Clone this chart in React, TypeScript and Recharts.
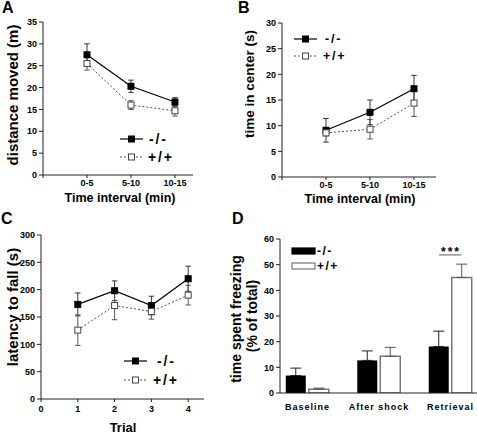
import React from 'react';
import { LineChart, Line, XAxis, YAxis, ErrorBar, Legend, BarChart, Bar, ReferenceLine } from 'recharts';

const FONT = '"Liberation Sans", Arial, Helvetica, sans-serif';

// Panel A: distance moved (m)
const intervalLabels = ['0-5', '5-10', '10-15'];
const distanceKO = [27.5, 20.3, 16.7];
const distanceKOErr = [2.5, 1.4, 1.0];
const distanceWT = [25.5, 16.0, 14.7];
const distanceWTErr = [1.5, 1.0, 1.2];
const distanceTicks = [0, 5, 10, 15, 20, 25, 30, 35];

// Panel B: time in center (s)
const centerKO = [9.1, 12.6, 17.2];
const centerKOErr = [2.3, 2.4, 2.6];
const centerWT = [8.6, 9.3, 14.4];
const centerWTErr = [0.6, 1.9, 2.6];
const centerTicks = [0, 5, 10, 15, 20, 25, 30];

// Panel C: latency to fall (s)
const trials = [1, 2, 3, 4];
const latencyKO = [173, 198, 171, 220];
const latencyKOErr = [21, 18, 17, 23];
const latencyWT = [126, 171, 160, 190];
const latencyWTErr = [28, 26, 14, 18];
const latencyTicks = [0, 50, 100, 150, 200, 250, 300];

// Panel D: time spent freezing (% of total)
const phases = ['Baseline', 'After shock', 'Retrieval'];
const freezeKO = [6.8, 12.7, 18.1];
const freezeKOErr = [2.9, 3.7, 6.0];
const freezeWT = [1.5, 14.3, 45.0];
const freezeWTErr = [0.4, 3.5, 5.2];
const freezeTicks = [0, 10, 20, 30, 40, 50, 60];

const seriesNames = ['-/-', '+/+'];

const dataA = intervalLabels.map((_, i) => ({
  x: i + 1, ko: distanceKO[i], koErr: distanceKOErr[i], wt: distanceWT[i], wtErr: distanceWTErr[i],
}));
const dataB = intervalLabels.map((_, i) => ({
  x: i + 1, ko: centerKO[i], koErr: centerKOErr[i], wt: centerWT[i], wtErr: centerWTErr[i],
}));
const dataC = trials.map((t, i) => ({
  x: t, ko: latencyKO[i], koErr: latencyKOErr[i], wt: latencyWT[i], wtErr: latencyWTErr[i],
}));
const dataD = phases.map((_, i) => ({
  x: i + 1, ko: freezeKO[i], koErr: [0, freezeKOErr[i]], wt: freezeWT[i], wtErr: [0, freezeWTErr[i]],
}));

const tickStyle = { fontSize: 9, fontWeight: 'bold', fill: '#000', fontFamily: FONT };

function VTitle(props: any) {
  const { items } = props;
  return (
    <g>
      {items.map((it: any, i: number) => (
        <text key={i} x={it.x} y={it.y} transform={`rotate(-90 ${it.x} ${it.y})`} textAnchor="middle"
          dominantBaseline="central" fontSize={it.size} fontWeight="bold" fontFamily={FONT} fill="#000">
          {it.text}
        </text>
      ))}
    </g>
  );
}

function HTitle(props: any) {
  const { tx, ty, text, size } = props;
  return (
    <text x={tx} y={ty} textAnchor="middle" dominantBaseline="central" fontSize={size} fontWeight="bold"
      fontFamily={FONT} fill="#000">
      {text}
    </text>
  );
}

function StarLabel(props: any) {
  const { tx, ty } = props;
  return (
    <text x={tx} y={ty} textAnchor="middle" fontSize={12} fontWeight="bold" fontFamily={FONT} fill="#000" letterSpacing={2}>
      ***
    </text>
  );
}

const squareDot = (fill: string, stroke: string) => (p: any) => {
  if (p.cx == null || p.cy == null) return <g key={`d${p.index}`} />;
  return <rect key={`d${p.index}`} x={p.cx - 3} y={p.cy - 3} width={6} height={6} fill={fill} stroke={stroke} strokeWidth={1} />;
};

function LineLegendSvg(props: any) {
  const { w, h, rows, x1, x2, tx, size } = props;
  return (
    <svg width={w} height={h} style={{ position: 'absolute', left: 0, top: 0, overflow: 'visible' }}>
      {rows.map((r: any, i: number) => (
        <g key={i}>
          <line x1={x1} x2={x2} y1={r.y} y2={r.y} stroke={i === 0 ? '#000' : '#555'} strokeWidth={1.2}
            strokeDasharray={i === 0 ? undefined : '2 2'} />
          <rect x={(x1 + x2) / 2 - 3} y={r.y - 3} width={6} height={6} fill={i === 0 ? '#000' : '#fff'}
            stroke={i === 0 ? '#000' : '#444'} />
          <text x={tx + (r.dx || 0)} y={r.y} dominantBaseline="central" fontSize={size} fontWeight="bold"
            fontFamily={FONT} fill="#000" letterSpacing={1.8}>
            {seriesNames[i]}
          </text>
        </g>
      ))}
    </svg>
  );
}

function BarLegendSvg(props: any) {
  const { w, h } = props;
  const rows = [{ y: 33, fill: '#000', stroke: '#000' }, { y: 48, fill: '#fff', stroke: '#777' }];
  return (
    <svg width={w} height={h} style={{ position: 'absolute', left: 0, top: 0, overflow: 'visible' }}>
      {rows.map((r, i) => (
        <g key={i}>
          <rect x={70} y={r.y} width={23} height={6} fill={r.fill} stroke={r.stroke} strokeWidth={1.2} />
          <text x={95} y={r.y + 3} dominantBaseline="central" fontSize={12} fontWeight="bold" fontFamily={FONT}
            fill="#000" letterSpacing={1.5}>
            {seriesNames[i]}
          </text>
        </g>
      ))}
    </svg>
  );
}

const legendWrap = (w: number, h: number) => ({ left: 0, top: 0, width: w, height: h, pointerEvents: 'none' as const });

function LinePanel(props: any) {
  const { w, h, data, margin, xDomain, xTicks, xFmt, xHeight, xTickMargin, yDomain, yTicks, yWidth, yTitle, xTitle, legend } = props;
  return (
    <LineChart width={w} height={h} data={data} margin={margin}>
      <XAxis dataKey="x" type="number" domain={xDomain} ticks={xTicks} tickFormatter={xFmt} allowDataOverflow
        height={xHeight} tick={tickStyle} tickSize={3} tickMargin={xTickMargin} stroke="#222" interval={0}
        label={xTitle} />
      <YAxis type="number" domain={yDomain} ticks={yTicks} allowDataOverflow width={yWidth} tick={tickStyle}
        tickSize={4} tickMargin={2} stroke="#222" interval={0} label={yTitle} />
      <Line dataKey="ko" stroke="#000" strokeWidth={1.2} dot={squareDot('#000', '#000')} activeDot={false}
        isAnimationActive={false}>
        <ErrorBar dataKey="koErr" width={2.7} stroke="#333" strokeWidth={1} direction="y" />
      </Line>
      <Line dataKey="wt" stroke="#555" strokeWidth={1} strokeDasharray="2 2" dot={squareDot('#fff', '#444')}
        activeDot={false} isAnimationActive={false}>
        <ErrorBar dataKey="wtErr" width={2.7} stroke="#555" strokeWidth={1} direction="y" />
      </Line>
      <Legend layout="vertical" align="center" verticalAlign="middle" wrapperStyle={legendWrap(w, h)}
        content={() => <LineLegendSvg w={w} h={h} {...legend} />} />
    </LineChart>
  );
}

const letterStyle = (left: number, top: number): React.CSSProperties => ({
  position: 'absolute', left, top, fontSize: 16, lineHeight: '16px', fontWeight: 'bold', fontFamily: FONT, color: '#000',
});

export default function App() {
  return (
    <div style={{ position: 'absolute', left: 0, top: 0, width: 477, height: 433, background: '#fff', overflow: 'hidden', fontFamily: FONT }}>
      {/* Panel A */}
      <div style={{ position: 'absolute', left: 0, top: 0 }}>
        <LinePanel w={237} h={215} data={dataA} margin={{ top: 22, right: 44, bottom: 0, left: 0 }}
          xDomain={[0, 3.41]} xTicks={[0, 1, 2, 3]} xFmt={(v: number) => (v === 0 ? '' : intervalLabels[v - 1])}
          xHeight={40} xTickMargin={2} yDomain={[0, 35]} yTicks={distanceTicks} yWidth={43}
          yTitle={<VTitle items={[{ x: 12.5, y: 95, size: 15, text: 'distance moved (m)' }]} />}
          xTitle={<HTitle tx={120} ty={198} size={12.5} text="Time interval (min)" />}
          legend={{ rows: [{ y: 139 }, { y: 157, dx: -1 }], x1: 120, x2: 143, tx: 149, size: 14 }} />
      </div>
      {/* Panel B */}
      <div style={{ position: 'absolute', left: 237, top: 0 }}>
        <LinePanel w={240} h={215} data={dataB} margin={{ top: 23, right: 41, bottom: 0, left: 0 }}
          xDomain={[0, 3.5]} xTicks={[0, 1, 2, 3]} xFmt={(v: number) => (v === 0 ? '' : intervalLabels[v - 1])}
          xHeight={38} xTickMargin={2} yDomain={[0, 30]} yTicks={centerTicks} yWidth={45}
          yTitle={<VTitle items={[{ x: 12.5, y: 84, size: 13.5, text: 'time in center (s)' }]} />}
          xTitle={<HTitle tx={123} ty={199} size={12.5} text="Time interval (min)" />}
          legend={{ rows: [{ y: 39, dx: 2 }, { y: 56 }], x1: 57, x2: 80, tx: 86, size: 12.5 }} />
      </div>
      {/* Panel C */}
      <div style={{ position: 'absolute', left: 0, top: 215 }}>
        <LinePanel w={237} h={218} data={dataC} margin={{ top: 20, right: 33, bottom: 0, left: 0 }}
          xDomain={[0, 4.43]} xTicks={[0, 1, 2, 3, 4]} xFmt={(v: number) => String(v)}
          xHeight={34} xTickMargin={4} yDomain={[0, 300]} yTicks={latencyTicks} yWidth={41}
          yTitle={<VTitle items={[{ x: 12, y: 92, size: 15, text: 'latency to fall (s)' }]} />}
          xTitle={<HTitle tx={123} ty={212} size={13} text="Trial" />}
          legend={{ rows: [{ y: 146, dx: 1 }, { y: 165, dx: -3 }], x1: 124, x2: 147, tx: 156, size: 14 }} />
      </div>
      {/* Panel D */}
      <div style={{ position: 'absolute', left: 222, top: 215 }}>
        <BarChart width={255} height={218} data={dataD} margin={{ top: 24, right: 0, bottom: 0, left: 0 }}
          barSize={20} barGap={3}>
          <XAxis dataKey="x" type="number" domain={[0.615, 3.371]} ticks={[1, 2, 3]} interval={0}
            tickFormatter={(v: number) => phases[v - 1]} allowDataOverflow height={40} tickLine={false}
            tickMargin={5} tick={{ ...tickStyle, letterSpacing: 1 }} stroke="#222" />
          <YAxis type="number" domain={[0, 60]} ticks={freezeTicks} interval={0} allowDataOverflow width={58}
            tick={tickStyle} tickSize={4} tickMargin={2} stroke="#222"
            label={<VTitle items={[
              { x: 13.5, y: 104, size: 14, text: 'time spent freezing' },
              { x: 30, y: 101, size: 14, text: '(% of total)' },
            ]} />} />
          <Bar dataKey="ko" fill="#000" isAnimationActive={false}>
            <ErrorBar dataKey="koErr" width={5.5} stroke="#222" strokeWidth={1} direction="y" />
          </Bar>
          <Bar dataKey="wt" fill="#fff" stroke="#777" strokeWidth={1.5} isAnimationActive={false}>
            <ErrorBar dataKey="wtErr" width={5.5} stroke="#555" strokeWidth={1} direction="y" />
          </Bar>
          <ReferenceLine segment={[{ x: 2.84, y: 53.8 }, { x: 3.15, y: 53.8 }]} stroke="#777" strokeWidth={1.2}
            label={<StarLabel tx={229} ty={41} />} />
          <Legend layout="vertical" align="center" verticalAlign="middle" wrapperStyle={legendWrap(255, 218)}
            content={() => <BarLegendSvg w={255} h={218} />} />
        </BarChart>
      </div>
      <div style={letterStyle(2, 0)}>A</div>
      <div style={letterStyle(238, 0)}>B</div>
      <div style={letterStyle(1, 211)}>C</div>
      <div style={letterStyle(232, 211)}>D</div>
    </div>
  );
}
